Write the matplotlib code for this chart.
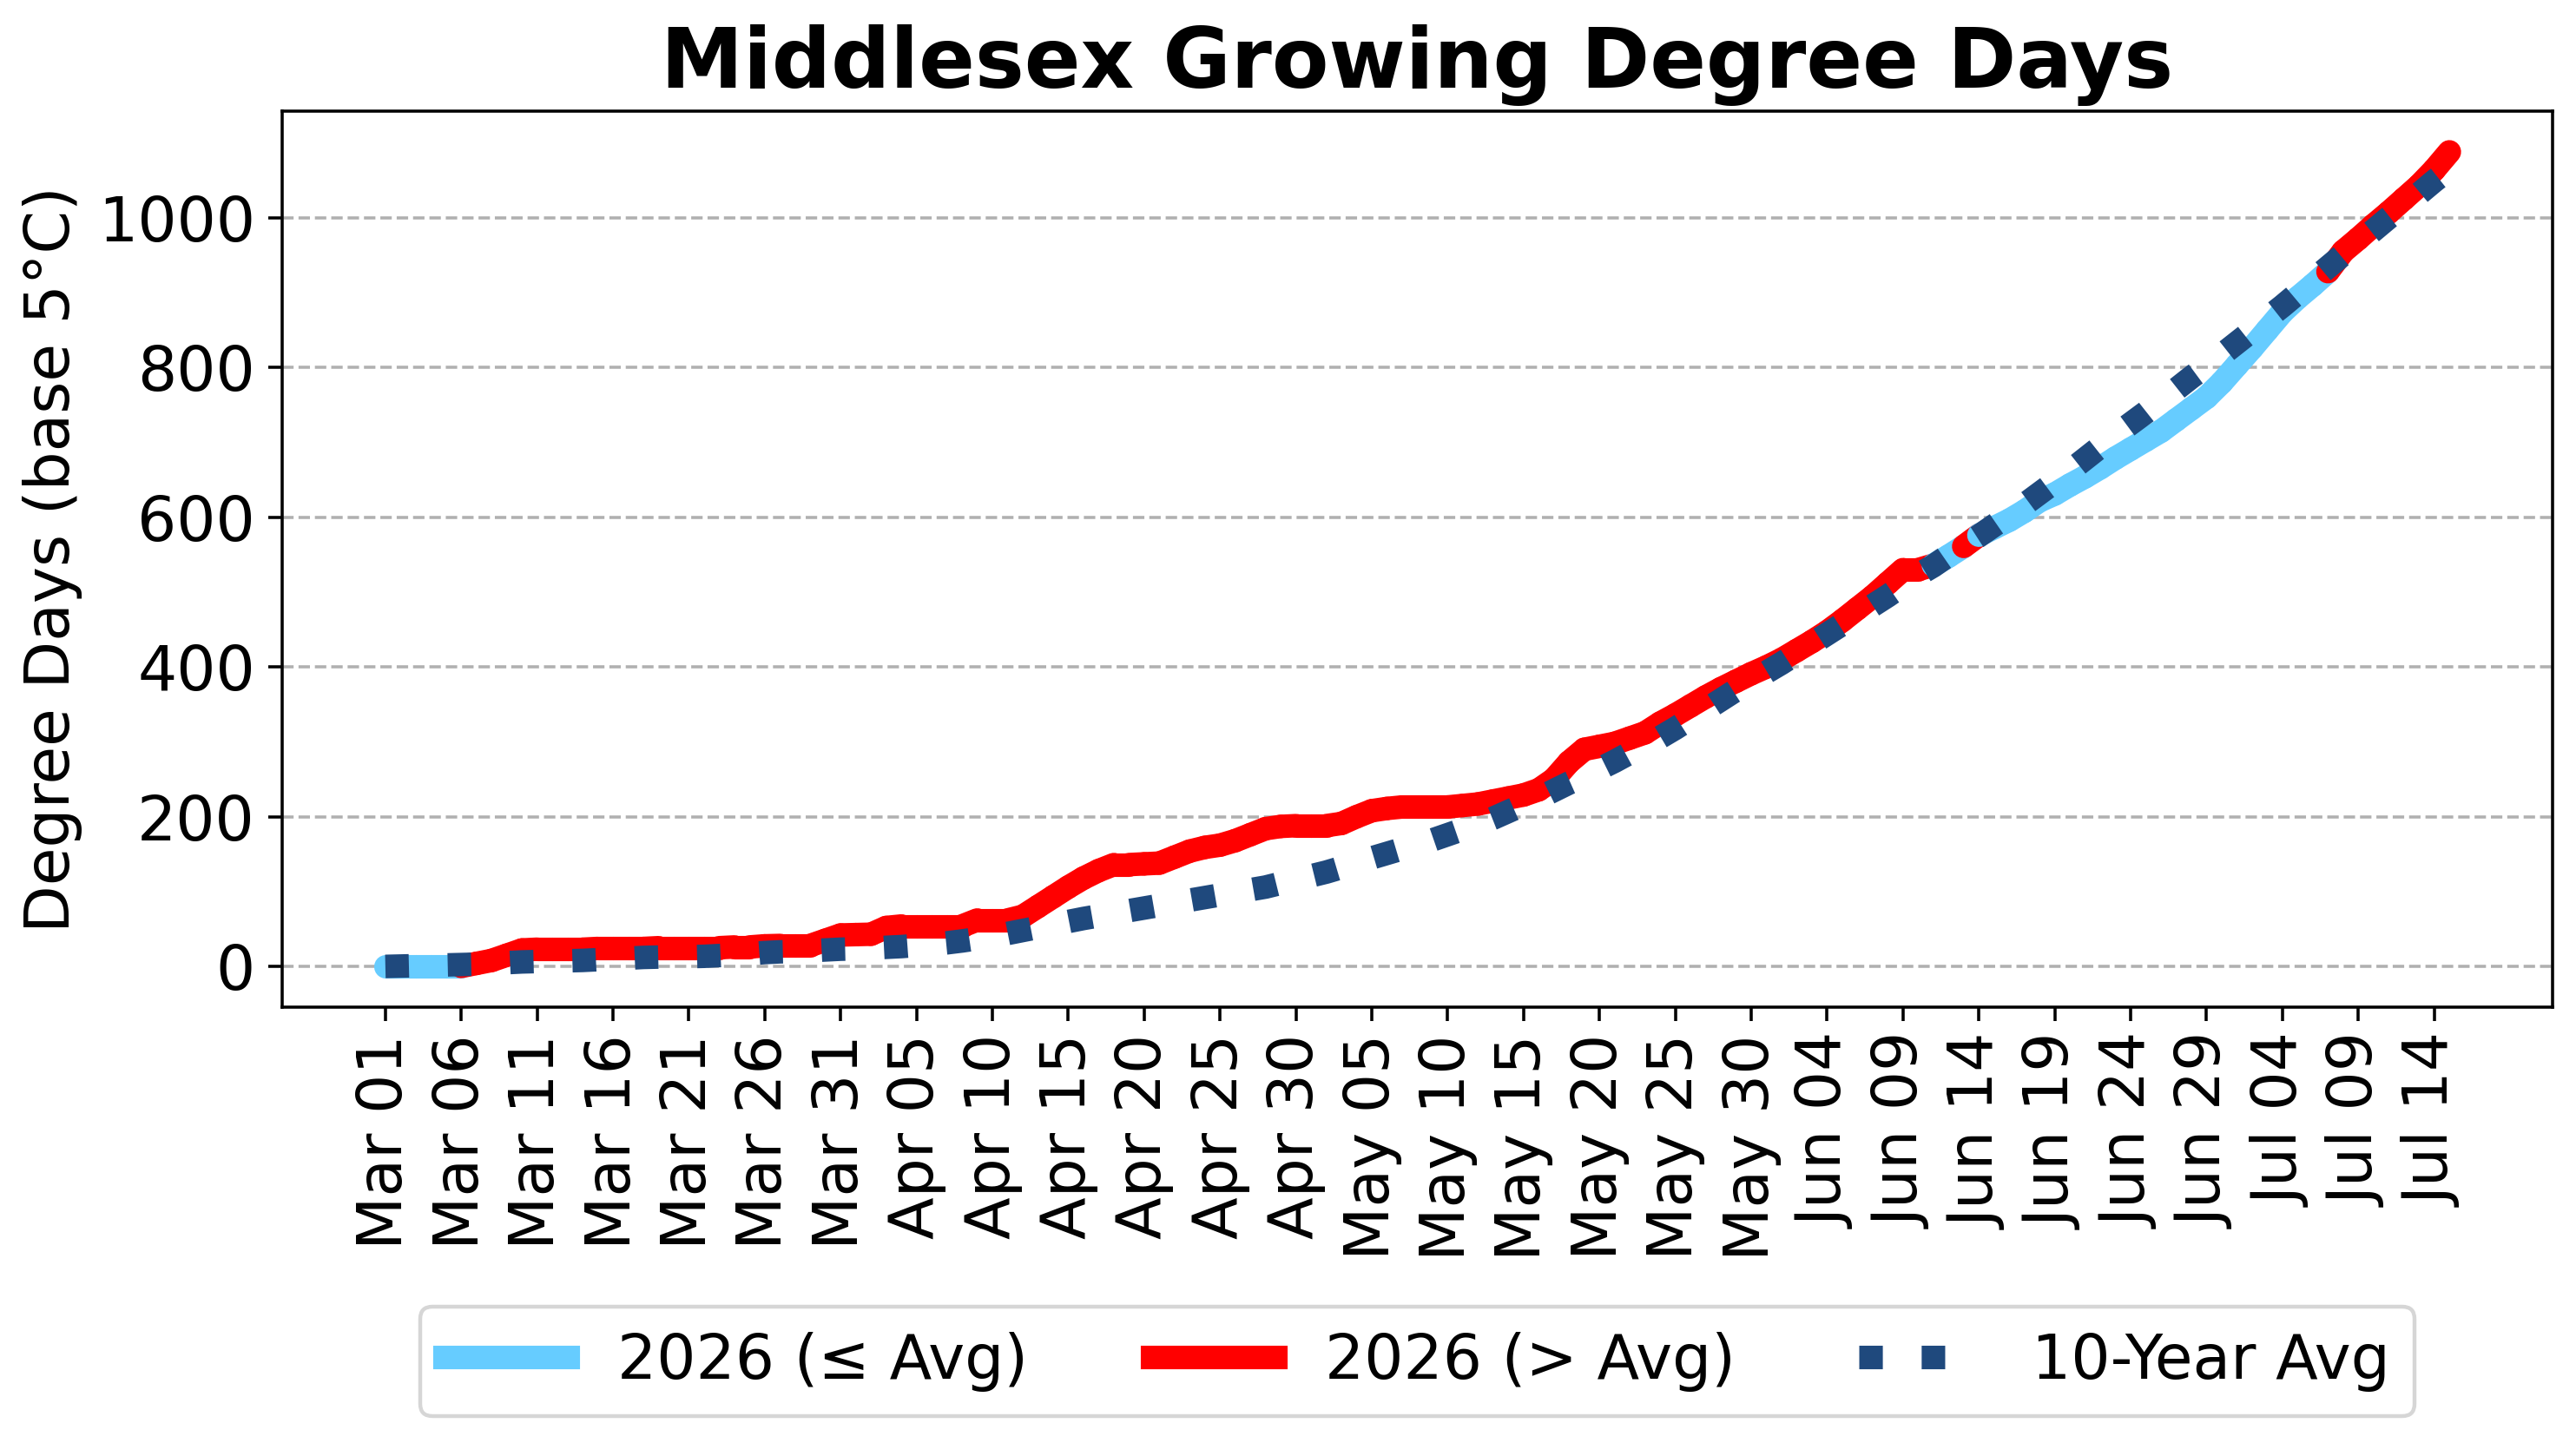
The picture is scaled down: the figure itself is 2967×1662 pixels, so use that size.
import numpy as np
import pandas as pd
import matplotlib
matplotlib.use("Agg")
import matplotlib.pyplot as plt
import matplotlib.dates as mdates
from matplotlib.collections import LineCollection
from matplotlib.lines import Line2D

# ---------------- data ----------------
start_date = "2026-03-01"
end_date = "2026-07-15"

gdd_2026 = [
    0, 0, 0, 0, 0, 0, 4, 8, 15, 22,
    23, 23, 23, 23, 24, 24, 24, 24, 25, 25,
    25, 25, 25, 26, 26, 27.5, 28, 28, 28, 35,
    42, 42.5, 43, 52, 54, 54, 54, 54, 54, 62,
    62, 62, 67, 80, 93, 106, 118, 128, 136, 136,
    137, 138, 146, 154, 159, 162, 168, 176, 184, 187,
    188, 188, 188, 191, 200, 208, 211, 213, 213, 213,
    213, 215, 217, 221, 225, 229, 236, 250, 273, 290,
    294, 298, 305, 312, 325, 336, 348, 360, 371, 381,
    391, 400, 410, 422, 434, 447, 462, 478, 494, 512,
    530, 530, 536, 548, 561, 576, 586, 596, 608, 622,
    631, 643, 654, 666, 679, 691, 703, 715, 730, 745,
    760, 780, 803, 826, 850, 874, 893, 910, 928, 955,
    972, 990, 1007, 1025, 1043, 1064, 1088,
]

gdd_avg = [
    0, 0.5, 1, 1.5, 2, 2.5, 3, 4, 5, 6,
    6.5, 7, 7.5, 8, 9, 10, 11, 12, 12.5, 13,
    13, 13.5, 14.5, 15.5, 17, 18.5, 19.5, 20, 21, 22,
    23, 23.5, 24.5, 25.5, 26.5, 28, 29.5, 31.5, 34, 37,
    40.5, 44, 48, 52, 56, 60, 64, 67.5, 71, 74.5,
    78, 81.5, 85, 88.5, 92, 95.5, 99, 102.5, 106, 111,
    116, 121, 126, 132, 138, 145, 151, 157, 163, 169,
    176, 183, 190, 198, 207, 216, 225, 235, 245, 254,
    264, 274, 285, 296, 306, 318, 331, 343, 356, 369,
    381, 393, 405, 418, 431, 444, 457, 470, 482, 495,
    509, 523, 535, 549, 562, 575, 589, 603, 617, 632,
    647, 662, 678, 694, 710, 725, 740, 756, 771, 787,
    802, 817, 833, 849, 866, 882, 899, 917, 934, 951,
    967, 983, 1000, 1016, 1032, 1049, 1065,
]

title = "Middlesex Growing Degree Days"
ylabel = "Degree Days (base 5°C)"
legend_labels = ["2026 (≤ Avg)", "2026 (> Avg)", "10-Year Avg"]
yticks = [0, 200, 400, 600, 800, 1000]

color_below = "#66ccff"
color_above = "#ff0000"
color_avg = "#1f497d"

# ---------------- figure ----------------
W, H, DPI = 2967, 1662, 320
LW = 6.1
fig = plt.figure(figsize=(W / DPI, H / DPI), dpi=DPI)
ax = fig.add_axes([325 / W, 1 - 1160 / H, (2940 - 325) / W, (1160 - 128) / H])

dates = pd.date_range(start_date, end_date, freq="D")
x = mdates.date2num(dates.to_pydatetime())
y = np.asarray(gdd_2026, dtype=float)
a = np.asarray(gdd_avg, dtype=float)

# 2026 line: each daily segment coloured by whether it ends above the average
pts = np.column_stack([x, y])
segs = np.stack([pts[:-1], pts[1:]], axis=1)
above = y[1:] > a[1:]
seg_colors = [color_above if f else color_below for f in above]
lc = LineCollection(segs, colors=seg_colors, linewidths=LW,
                    capstyle="round", joinstyle="round", zorder=2)
ax.add_collection(lc)

ax.plot(dates, a, color=color_avg, linewidth=LW, linestyle=":", zorder=3)

ax.margins(x=0.05, y=0.05)
ax.autoscale_view()

ax.set_title(title, fontsize=21.5, fontweight="bold")
ax.set_ylabel(ylabel, fontsize=16)
ax.grid(axis="y", linestyle="--", color="#b0b0b0", linewidth=0.8)

ticks = dates[::5]
ax.set_xticks(ticks)
ax.set_xticklabels([d.strftime("%b %d") for d in ticks], rotation=90, fontsize=16)
ax.tick_params(axis="y", labelsize=16)
ax.set_yticks(yticks)

handles = [
    Line2D([], [], color=color_below, linewidth=LW),
    Line2D([], [], color=color_above, linewidth=LW),
    Line2D([], [], color=color_avg, linewidth=LW, linestyle=":"),
]
ax.legend(handles, legend_labels, loc="upper center", bbox_to_anchor=(0.5, -0.30),
          ncol=3, fontsize=16)

fig.savefig("out.png", dpi=DPI)
